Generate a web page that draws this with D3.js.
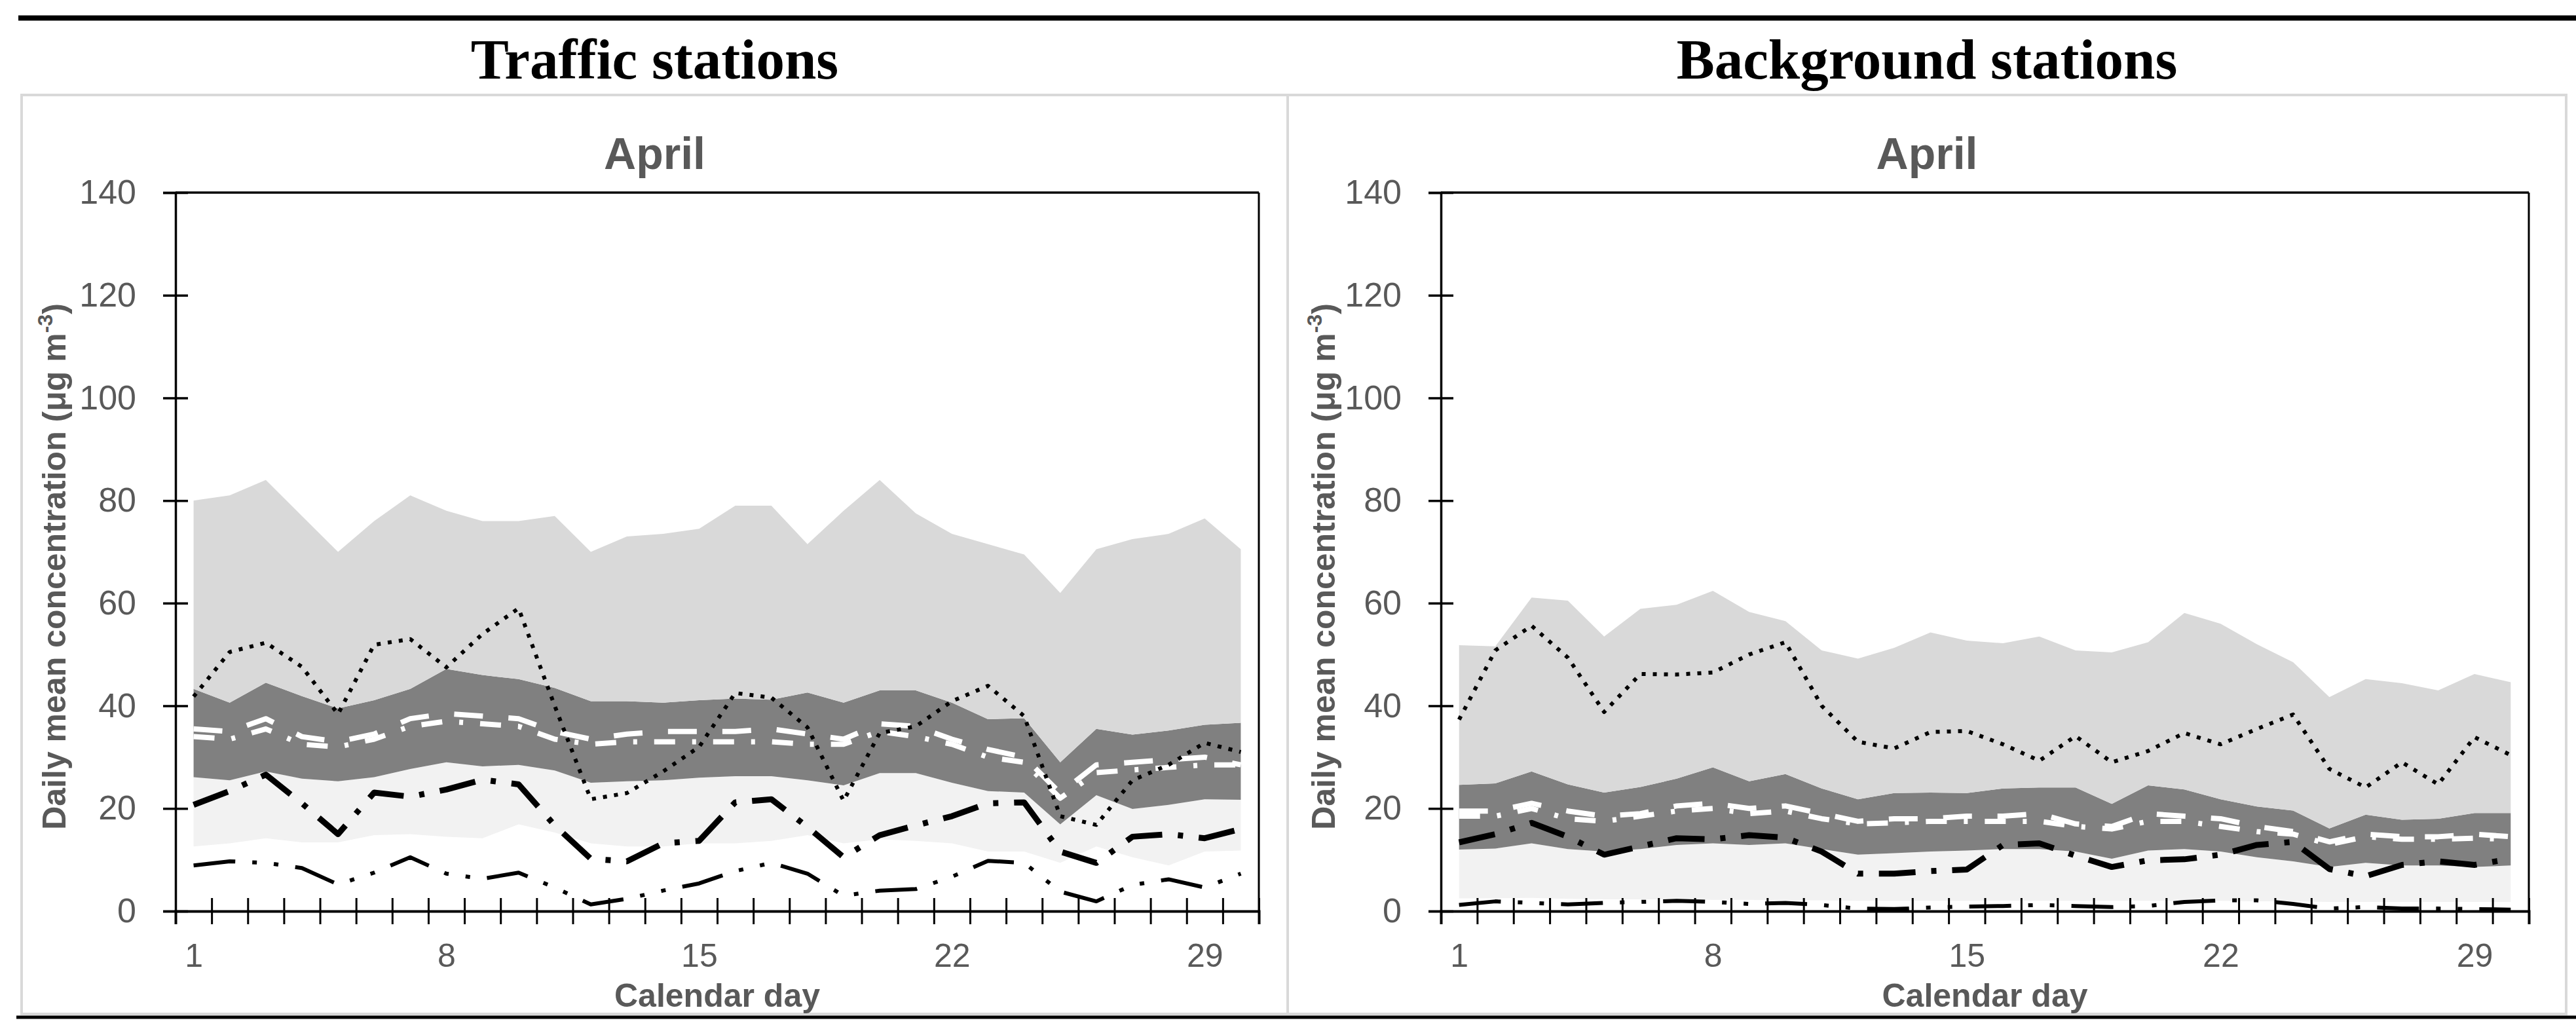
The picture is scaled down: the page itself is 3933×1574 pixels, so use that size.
<!DOCTYPE html>
<html>
<head>
<meta charset="utf-8">
<script src="https://cdn.jsdelivr.net/npm/d3@7/dist/d3.min.js"></script>
<style>
  body { margin: 0; background: #fff; }
</style>
</head>
<body>
<script>
// categories and tick labels
const days = [1, 2, 3, 4, 5, 6, 7, 8, 9, 10, 11, 12, 13, 14, 15, 16, 17, 18, 19, 20, 21, 22, 23, 24, 25, 26, 27, 28, 29, 30];
const dayLabels = [1, 8, 15, 22, 29];
const yTicks = [0, 20, 40, 60, 80, 100, 120, 140];

// traffic stations, April
const trafficP90 = [80, 81, 84, 77, 70, 76, 81, 78, 76, 76, 77, 70, 73, 73.5, 74.5, 79, 79, 71.5, 78, 84, 77.5, 73.5, 71.5, 69.5, 62, 70.5, 72.5, 73.5, 76.5, 70.5];
const trafficP75 = [43.3, 40.6, 44.5, 41.9, 39.5, 41.1, 43.3, 47.2, 46, 45.2, 43.5, 40.9, 40.9, 40.6, 41.1, 41.4, 41.2, 42.6, 40.6, 43, 43, 40.6, 37.4, 37.6, 29, 35.5, 34.4, 35.2, 36.3, 36.7];
const trafficP25 = [26.1, 25.5, 27.2, 25.8, 25.3, 26.1, 27.7, 29, 28.2, 28.5, 27.4, 25, 25.3, 25.5, 26, 26.3, 26.3, 25.5, 24.5, 26.9, 26.9, 25, 23.4, 23.1, 16.9, 22.6, 19.9, 20.7, 21.8, 21.7];
const trafficP10 = [12.6, 13.2, 14.2, 13.4, 13.4, 14.8, 15, 14.5, 14.2, 16.9, 15.3, 13.2, 12.6, 12.6, 13.2, 13.2, 13.7, 14.8, 13.2, 14, 13.7, 13.2, 11.6, 11.6, 9.4, 12.6, 10.5, 8.9, 11.6, 11.8];
const trafficMedian = [35.5, 35, 37.5, 34, 33, 34.5, 37.5, 38.5, 38, 37.5, 35, 33.5, 34.5, 35, 35, 35, 35.5, 34.5, 33.5, 36.5, 36, 33.5, 31.5, 30, 23, 28.5, 29, 29.5, 30, 28.5];
const trafficMean = [34, 33.5, 35.5, 32.5, 32, 33.5, 36, 37, 36.5, 36, 33.5, 32.5, 33, 33, 33, 33, 33, 32.5, 32.5, 35, 34, 32.5, 30, 29, 22, 27, 27.5, 28, 28.5, 28.5];
const trafficDotted = [41.8, 50.5, 52.3, 47.6, 38.4, 51.9, 53, 47.5, 54, 59, 40, 21.8, 23, 27.2, 32, 42.5, 41.6, 35.8, 21.5, 34.7, 36, 40.9, 43.9, 38, 18.5, 16.8, 25.5, 28.5, 32.8, 31];
const trafficDashDot = [20.7, 23.4, 26.6, 21, 15, 23.1, 22.3, 23.7, 25.6, 24.7, 16.7, 10.2, 9.7, 13.2, 13.7, 21.2, 21.8, 16.4, 10.5, 14.8, 16.7, 18.5, 21, 21.2, 11.6, 9.4, 14.5, 15, 14.2, 16];
const trafficDashDotDot = [8.9, 9.7, 9.4, 8.4, 5.2, 7.5, 10.5, 7.3, 6.3, 7.5, 4.6, 1.3, 2.4, 4, 5.4, 7.8, 9.4, 7.3, 3, 4, 4.3, 6.7, 9.8, 9.4, 3.8, 1.9, 5.1, 6.2, 4.6, 7.3];

// background stations, April
const backgroundP90 = [51.8, 51.6, 61.1, 60.5, 53.5, 58.9, 59.7, 62.4, 58.3, 56.5, 50.8, 49.2, 51.3, 54.3, 52.7, 52.2, 53.5, 50.8, 50.4, 52.4, 58.1, 56, 52, 48.5, 41.7, 45.2, 44.4, 43, 46.2, 44.6];
const backgroundP75 = [24.6, 24.9, 27.2, 24.7, 23.1, 24.2, 25.8, 28, 25.3, 26.7, 23.9, 21.8, 23, 23.1, 23, 23.9, 24.1, 24.1, 20.9, 24.5, 23.7, 21.8, 20.4, 19.6, 16.1, 18.8, 17.8, 18, 19.1, 19.1];
const backgroundP25 = [12, 12.2, 13.2, 12.1, 11.6, 12.1, 12.9, 13.2, 12.9, 13.2, 12.1, 11, 11.3, 11.6, 11.8, 12.1, 12.1, 11.6, 10.2, 11.8, 12.1, 11.6, 10.5, 9.7, 8.6, 9.4, 8.9, 8.9, 8.6, 8.9];
const backgroundP10 = [2.5, 2.5, 2.6, 2.4, 2.3, 2.3, 2.3, 2.2, 2.2, 2.1, 2.1, 2, 2, 2, 2, 2, 2, 2, 2, 2, 2, 2, 1.9, 1.9, 1.8, 1.8, 1.8, 1.8, 1.8, 1.8];
const backgroundMedian = [19.5, 19.5, 21, 19.5, 18.5, 19, 20.5, 21, 20, 20.5, 19, 17.5, 18, 18, 18.5, 18.5, 19, 17, 16.5, 19, 18.5, 18, 16.5, 15.5, 13.5, 15, 14.5, 14.5, 15, 14.5];
const backgroundMean = [18.5, 18.5, 20, 18, 17.5, 18.5, 19.5, 20, 19, 19.5, 18, 17, 17.2, 17.5, 17.5, 17.5, 17.5, 16.5, 16, 17.5, 17.5, 16.5, 15.5, 15, 13, 14.5, 14, 14, 14.2, 14];
const backgroundDotted = [37.3, 50.8, 55.6, 49.4, 38.8, 46.2, 46.1, 46.5, 50, 52.4, 40, 33, 31.7, 34.9, 35.1, 32.5, 29.3, 34.1, 29, 31.2, 34.7, 32.5, 35.5, 38.3, 27.7, 24.1, 29, 24.7, 33.9, 30.4];
const backgroundDashDot = [13.4, 15, 17.2, 14.5, 11, 12.6, 14.2, 14, 14.8, 14.3, 11.6, 7.3, 7.3, 7.8, 8.1, 12.9, 13.2, 10.8, 8.6, 9.9, 10.1, 11, 12.9, 13.5, 8.2, 6.8, 9, 9.7, 9, 10.2];
const backgroundDashDotDot = [1.2, 1.9, 1.6, 1.3, 1.6, 1.8, 2, 1.8, 1.4, 1.6, 1.2, 0.5, 0.4, 0.7, 0.9, 1, 1.2, 1, 0.8, 1, 1.8, 2.1, 2.1, 1.4, 0.5, 0.8, 0.5, 0.5, 0.4, 0.3];

const width = 3933;
const height = 1574;
const grey = "#595959";

const svg = d3.select("body").append("svg")
    .attr("width", width)
    .attr("height", height)
    .style("display", "block");

// rules above and below
svg.append("line").attr("x1", 28).attr("x2", width).attr("y1", 27.5).attr("y2", 27.5)
    .attr("stroke", "#000").attr("stroke-width", 8);
svg.append("line").attr("x1", 25).attr("x2", width).attr("y1", 1553).attr("y2", 1553)
    .attr("stroke", "#000").attr("stroke-width", 5);

const panels = [
    {
        title: "Traffic stations", box: [33, 1966], plot: [268, 1922], yTitleX: 100,
        p90: trafficP90, p75: trafficP75, p25: trafficP25, p10: trafficP10,
        median: trafficMedian, mean: trafficMean,
        dotted: trafficDotted, dashDot: trafficDashDot, dashDotDot: trafficDashDotDot
    },
    {
        title: "Background stations", box: [1966, 3918], plot: [2200, 3861], yTitleX: 2038,
        p90: backgroundP90, p75: backgroundP75, p25: backgroundP25, p10: backgroundP10,
        median: backgroundMedian, mean: backgroundMean,
        dotted: backgroundDotted, dashDot: backgroundDashDot, dashDotDot: backgroundDashDotDot
    }
];

const drawPanel = p => {
    const [bx0, bx1] = p.box;
    const [left, right] = p.plot;
    const top = 294;
    const bottom = 1391;

    svg.append("text")
        .attr("x", (bx0 + bx1) / 2).attr("y", 120)
        .attr("text-anchor", "middle")
        .style("font-family", "'Liberation Serif', serif")
        .style("font-weight", "bold")
        .style("font-size", "87px")
        .text(p.title);

    svg.append("rect")
        .attr("x", bx0).attr("y", 145)
        .attr("width", bx1 - bx0).attr("height", 1548 - 145)
        .attr("fill", "none").attr("stroke", "#d9d9d9").attr("stroke-width", 4);

    svg.append("text")
        .attr("x", (bx0 + bx1) / 2).attr("y", 258)
        .attr("text-anchor", "middle")
        .attr("fill", grey)
        .style("font-family", "'Liberation Sans', sans-serif")
        .style("font-weight", "bold")
        .style("font-size", "68px")
        .text("April");

    // category axis: points sit in the middle of each day band
    const x = d3.scaleLinear().domain([0.5, 30.5]).range([left, right]);
    const y = d3.scaleLinear().domain([0, 140]).range([bottom, top]);

    const g = svg.append("g");

    const band = (lo, hi, fill) => {
        const area = d3.area()
            .x((d, i) => x(days[i]))
            .y0((d, i) => y(lo[i]))
            .y1((d, i) => y(hi[i]));
        g.append("path").datum(days).attr("d", area).attr("fill", fill);
    };
    band(p.p10, p.p25, "#f2f2f2");
    band(p.p25, p.p75, "#808080");
    band(p.p75, p.p90, "#d9d9d9");

    const line = d3.line().x((d, i) => x(days[i])).y(d => y(d));
    const series = [
        { values: p.median, color: "#fff", w: 8, dash: "44 39" },
        { values: p.mean, color: "#fff", w: 8, dash: "32 26 6 26" },
        { values: p.dotted, color: "#000", w: 6, dash: "6 11" },
        { values: p.dashDot, color: "#000", w: 9, dash: "56 24 8 24" },
        { values: p.dashDotDot, color: "#000", w: 6, dash: "64 26 7 26 7 26" }
    ];
    series.forEach(s => {
        g.append("path").datum(s.values)
            .attr("d", line)
            .attr("fill", "none")
            .attr("stroke", s.color)
            .attr("stroke-width", s.w)
            .attr("stroke-dasharray", s.dash)
            .attr("stroke-linejoin", "round");
    });

    // frame: top and right edges
    g.append("line").attr("x1", left).attr("x2", right).attr("y1", top).attr("y2", top)
        .attr("stroke", "#000").attr("stroke-width", 3.5);
    g.append("line").attr("x1", right).attr("x2", right).attr("y1", top).attr("y2", bottom)
        .attr("stroke", "#000").attr("stroke-width", 3);

    // y axis with ticks crossing the line
    const yAxis = g.append("g")
        .attr("transform", `translate(${left},0)`)
        .call(d3.axisLeft(y).tickValues(yTicks).tickSize(19).tickPadding(41));
    yAxis.select(".domain").attr("stroke", "#000").attr("stroke-width", 3.5);
    yAxis.selectAll(".tick line").attr("x2", -19).attr("x1", 19).attr("stroke-width", 3.5);
    yAxis.selectAll(".tick text")
        .attr("fill", grey)
        .style("font-family", "'Liberation Sans', sans-serif")
        .style("font-size", "52px");

    // x axis: tick marks at day boundaries, labels every 7th day
    const bounds = days.map(d => d - 0.5).concat([30.5]);
    const xAxis = g.append("g")
        .attr("transform", `translate(0,${bottom})`)
        .call(d3.axisBottom(x).tickValues(bounds).tickSize(20).tickFormat(""));
    xAxis.select(".domain").attr("stroke", "#000").attr("stroke-width", 4);
    xAxis.selectAll(".tick line").attr("y1", -20).attr("y2", 20).attr("stroke-width", 3);

    const xLabels = g.append("g")
        .attr("transform", `translate(0,${bottom})`)
        .call(d3.axisBottom(x).tickValues(dayLabels).tickSize(0).tickPadding(49));
    xLabels.select(".domain").remove();
    xLabels.selectAll(".tick text")
        .attr("fill", grey)
        .style("font-family", "'Liberation Sans', sans-serif")
        .style("font-size", "50px");

    svg.append("text")
        .attr("x", (left + right) / 2).attr("y", 1537)
        .attr("text-anchor", "middle")
        .attr("fill", grey)
        .style("font-family", "'Liberation Sans', sans-serif")
        .style("font-weight", "bold")
        .style("font-size", "50px")
        .text("Calendar day");

    const yTitle = svg.append("text")
        .attr("transform", `translate(${p.yTitleX},865) rotate(-90)`)
        .attr("text-anchor", "middle")
        .attr("fill", grey)
        .style("font-family", "'Liberation Sans', sans-serif")
        .style("font-weight", "bold")
        .style("font-size", "50px");
    yTitle.append("tspan").text("Daily mean concentration (μg m");
    yTitle.append("tspan").attr("dy", -20).style("font-size", "32px").text("-3");
    yTitle.append("tspan").attr("dy", 20).text(")");
};

panels.forEach(drawPanel);
</script>
</body>
</html>
